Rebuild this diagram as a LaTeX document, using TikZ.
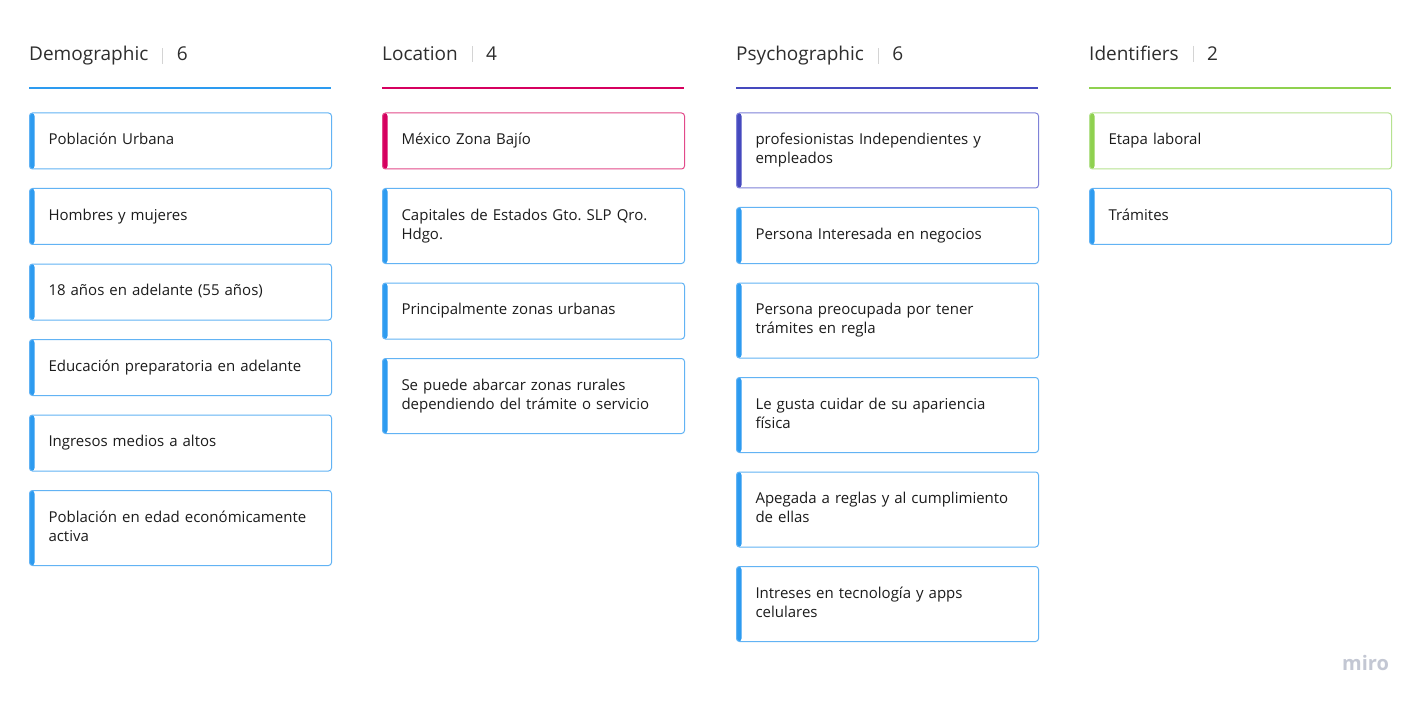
\documentclass[tikz,border=0pt]{standalone}
\usepackage{fontspec}
\setmainfont{Open Sans}
\usepackage{xcolor}
\usepackage{tikz}
\usetikzlibrary{positioning}
\frenchspacing
\definecolor{bluebar}{HTML}{2D9BF0}
\definecolor{blueedge}{HTML}{62B3F4}
\definecolor{pinkbar}{HTML}{D6005F}
\definecolor{pinkedge}{HTML}{E24A8A}
\definecolor{indigobar}{HTML}{4549BE}
\definecolor{indigoedge}{HTML}{7F82D8}
\definecolor{greenbar}{HTML}{8FD14F}
\definecolor{greenedge}{HTML}{B6E290}
\definecolor{cardtext}{HTML}{1C1C1C}
\definecolor{headtext}{HTML}{2E2E2E}
\definecolor{sepgrey}{HTML}{D4D4D4}
\definecolor{logogrey}{HTML}{C3C7D3}
\tikzstyle{card} = [rectangle, draw, fill=white, rounded corners=3pt, line width=1pt, text width=264pt, inner xsep=19pt, inner ysep=18.5pt, align=left, font=\fontsize{15}{19}\selectfont, text=cardtext, execute at begin node=\strut, execute at end node=\strut]
\tikzstyle{bluecard} = [card, draw=blueedge, path picture={\fill[bluebar] (path picture bounding box.north west) rectangle ([xshift=5pt]path picture bounding box.south west);}]
\tikzstyle{pinkcard} = [card, draw=pinkedge, path picture={\fill[pinkbar] (path picture bounding box.north west) rectangle ([xshift=5pt]path picture bounding box.south west);}]
\tikzstyle{indigocard} = [card, draw=indigoedge, path picture={\fill[indigobar] (path picture bounding box.north west) rectangle ([xshift=5pt]path picture bounding box.south west);}]
\tikzstyle{greencard} = [card, draw=greenedge, path picture={\fill[greenbar] (path picture bounding box.north west) rectangle ([xshift=5pt]path picture bounding box.south west);}]
\tikzstyle{head} = [font=\fontsize{19}{22}\selectfont, text=headtext, inner sep=0pt, anchor=base west]
\tikzstyle{sepline} = [draw=sepgrey, line width=0.8pt]
\tikzstyle{hrule} = [line width=2pt]

\begin{document}
\begin{tikzpicture}[x=1pt, y=-1pt, node distance=18.5pt]
    \useasboundingbox[fill=white] (0,0) rectangle (1420,703);

    % Demographic
    
\node[head] (demo) at (29,61) {Demographic};
    
\node[head, right=28pt of demo.base east, anchor=base west] (demoN) {6};
    \draw[sepline] ([xshift=14pt,yshift=8pt]demo.east) -- ([xshift=14pt,yshift=-8pt]demo.east);
    \draw[hrule, bluebar] (29,88) -- ++(302,0);
    
\node[bluecard, anchor=north west] (d1) at (29,112.5) {Población Urbana};
    
\node[bluecard, below=of d1] (d2) {Hombres y mujeres};
    
\node[bluecard, below=of d2] (d3) {18 años en adelante (55 años)};
    
\node[bluecard, below=of d3] (d4) {Educación preparatoria en adelante};
    
\node[bluecard, below=of d4] (d5) {Ingresos medios a altos};
    
\node[bluecard, below=of d5] (d6) {Población en edad económicamente\\activa};

    % Location
    
\node[head] (loc) at (382,61) {Location};
    
\node[head, right=28pt of loc.base east, anchor=base west] (locN) {4};
    \draw[sepline] ([xshift=14pt,yshift=8pt]loc.east) -- ([xshift=14pt,yshift=-8pt]loc.east);
    \draw[hrule, pinkbar] (382,88) -- ++(302,0);
    
\node[pinkcard, anchor=north west] (l1) at (382,112.5) {México Zona Bajío};
    
\node[bluecard, below=of l1] (l2) {Capitales de Estados Gto. SLP Qro.\\Hdgo.};
    
\node[bluecard, below=of l2] (l3) {Principalmente zonas urbanas};
    
\node[bluecard, below=of l3] (l4) {Se puede abarcar zonas rurales\\dependiendo del trámite o servicio};

    % Psychographic
    
\node[head] (psy) at (736,61) {Psychographic};
    
\node[head, right=28pt of psy.base east, anchor=base west] (psyN) {6};
    \draw[sepline] ([xshift=14pt,yshift=8pt]psy.east) -- ([xshift=14pt,yshift=-8pt]psy.east);
    \draw[hrule, indigobar] (736,88) -- ++(302,0);
    
\node[indigocard, anchor=north west] (p1) at (736,112.5) {profesionistas Independientes y\\empleados};
    
\node[bluecard, below=of p1] (p2) {Persona Interesada en negocios};
    
\node[bluecard, below=of p2] (p3) {Persona preocupada por tener\\trámites en regla};
    
\node[bluecard, below=of p3] (p4) {Le gusta cuidar de su apariencia\\física};
    
\node[bluecard, below=of p4] (p5) {Apegada a reglas y al cumplimiento\\de ellas};
    
\node[bluecard, below=of p5] (p6) {Intreses en tecnología y apps\\celulares};

    % Identifiers
    
\node[head] (ids) at (1089,61) {Identifiers};
    
\node[head, right=28pt of ids.base east, anchor=base west] (idsN) {2};
    \draw[sepline] ([xshift=14pt,yshift=8pt]ids.east) -- ([xshift=14pt,yshift=-8pt]ids.east);
    \draw[hrule, greenbar] (1089,88) -- ++(302,0);
    
\node[greencard, anchor=north west] (i1) at (1089,112.5) {Etapa laboral};
    
\node[bluecard, below=of i1] (i2) {Trámites};

    % Logo
    
\node[anchor=base west, inner sep=0pt, font=\fontsize{20}{22}\selectfont\bfseries, text=logogrey] (logo) at (1342,670) {miro};
\end{tikzpicture}
\end{document}
